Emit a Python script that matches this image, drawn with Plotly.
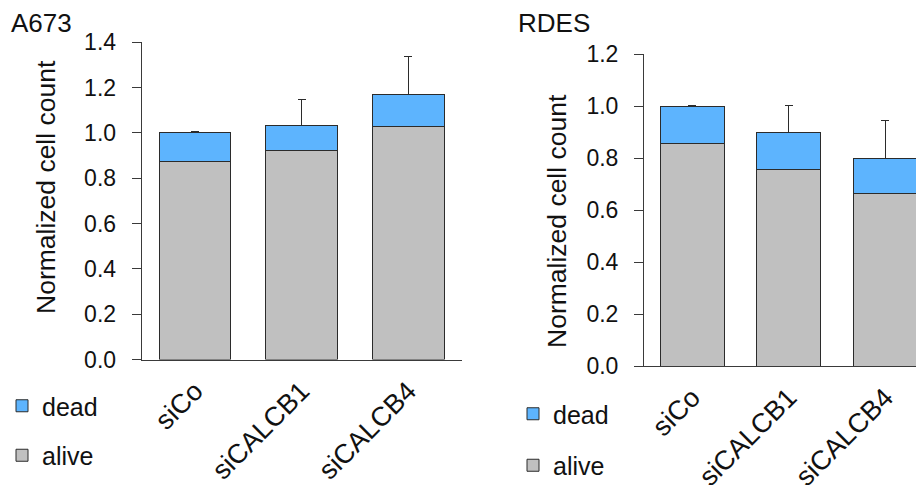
import plotly.graph_objects as go

W, H = 924, 485
OFF = 8  # page body margin offset of the rendered figure

categories = ["siCo", "siCALCB1", "siCALCB4"]

a673_alive = [0.873, 0.921, 1.029]
a673_dead = [0.127, 0.114, 0.140]
a673_err = [0.005, 0.113, 0.167]

rdes_alive = [0.855, 0.757, 0.662]
rdes_dead = [0.145, 0.141, 0.136]
rdes_err = [0.003, 0.104, 0.148]

y_ticks_a673 = [0.0, 0.2, 0.4, 0.6, 0.8, 1.0, 1.2, 1.4]
y_ticks_rdes = [0.0, 0.2, 0.4, 0.6, 0.8, 1.0, 1.2]

BLUE = "#5DB4FE"
GRAY = "#C0C0C0"
EDGE = "#2b2b2b"
AXIS = "#3a3a3a"
TXT = "#111111"
FONT = "Liberation Sans, Arial, sans-serif"


def px_x(p):
    return (p - OFF) / W


def px_y(p):
    return (H - (p - OFF)) / H


fig = go.Figure()

# left panel (A673)
fig.add_trace(go.Bar(x=categories, y=a673_alive, name="alive",
                     marker=dict(color=GRAY, line=dict(color=EDGE, width=1)),
                     width=0.67, xaxis="x", yaxis="y", legend="legend",
                     legendgroup="alive", legendrank=2))
fig.add_trace(go.Bar(x=categories, y=a673_dead, name="dead",
                     marker=dict(color=BLUE, line=dict(color=EDGE, width=1)),
                     width=0.67, xaxis="x", yaxis="y", legend="legend",
                     legendgroup="dead", legendrank=1,
                     error_y=dict(type="data", symmetric=False, array=a673_err, arrayminus=[0] * 3,
                                  color=EDGE, thickness=1, width=4)))
# right panel (RDES)
fig.add_trace(go.Bar(x=categories, y=rdes_alive, name="alive",
                     marker=dict(color=GRAY, line=dict(color=EDGE, width=1)),
                     width=0.663, xaxis="x2", yaxis="y2", legend="legend2",
                     legendgroup="alive2", legendrank=2))
fig.add_trace(go.Bar(x=categories, y=rdes_dead, name="dead",
                     marker=dict(color=BLUE, line=dict(color=EDGE, width=1)),
                     width=0.663, xaxis="x2", yaxis="y2", legend="legend2",
                     legendgroup="dead2", legendrank=1,
                     error_y=dict(type="data", symmetric=False, array=rdes_err, arrayminus=[0] * 3,
                                  color=EDGE, thickness=1, width=4)))

yax_common = dict(showgrid=False, zeroline=False, showline=True, linecolor=AXIS, linewidth=1,
                  ticks="outside", ticklen=9, tickcolor=AXIS, tickformat=".1f", automargin=False,
                  tickfont=dict(family=FONT, size=23, color=TXT), ticklabelstandoff=11)
xax_common = dict(showgrid=False, zeroline=False, showline=True, linecolor=AXIS, linewidth=1,
                  ticks="", tickangle=-45, automargin=False, ticklabelstandoff=4,
                  tickfont=dict(family=FONT, size=27, color=TXT))

legend_common = dict(xanchor="left", yanchor="top", traceorder="grouped",
                     font=dict(family=FONT, size=25, color=TXT), bgcolor="rgba(0,0,0,0)",
                     itemwidth=30, borderwidth=0)

fig.update_layout(
    width=W, height=H, margin=dict(l=0, r=0, t=0, b=0, pad=0, autoexpand=False),
    paper_bgcolor="white", plot_bgcolor="white",
    barmode="stack", showlegend=True,
    xaxis=dict(domain=[px_x(141.7), px_x(461.7)], range=[-0.5, 2.5], anchor="y", **xax_common),
    yaxis=dict(domain=[px_y(359.5), px_y(42.3)], range=[0, 1.4], tickvals=y_ticks_a673,
               anchor="x", **yax_common),
    xaxis2=dict(domain=[px_x(644.0), 1.0], range=[-0.5, 2.5 - 1.5 / 96.5], anchor="y2", **xax_common),
    yaxis2=dict(domain=[px_y(366.0), px_y(54.0)], range=[0, 1.2], tickvals=y_ticks_rdes,
                anchor="x2", **yax_common),
    legend=dict(x=px_x(2), y=px_y(383), tracegroupgap=14, **legend_common),
    legend2=dict(x=px_x(513), y=px_y(391), tracegroupgap=16, **legend_common),
    font=dict(family=FONT, size=24, color=TXT),
    annotations=[
        dict(text="A673", x=px_x(9), y=px_y(23), xref="paper", yref="paper", xanchor="left",
             yanchor="middle", showarrow=False, font=dict(family=FONT, size=26, color=TXT)),
        dict(text="RDES", x=px_x(516), y=px_y(23), xref="paper", yref="paper", xanchor="left",
             yanchor="middle", showarrow=False, font=dict(family=FONT, size=26, color=TXT)),
        dict(text="Normalized cell count", x=px_x(46), y=px_y(187), xref="paper", yref="paper",
             xanchor="center", yanchor="middle", textangle=-90, showarrow=False,
             font=dict(family=FONT, size=26.5, color=TXT)),
        dict(text="Normalized cell count", x=px_x(557), y=px_y(221), xref="paper", yref="paper",
             xanchor="center", yanchor="middle", textangle=-90, showarrow=False,
             font=dict(family=FONT, size=26.5, color=TXT)),
    ],
)

fig.write_html("out.html")
